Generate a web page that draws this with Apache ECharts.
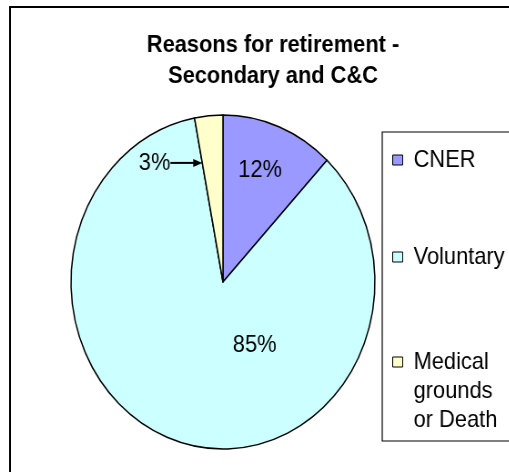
<!DOCTYPE html>
<html>
<head>
<meta charset="utf-8">
<script src="https://cdn.jsdelivr.net/npm/echarts@6/dist/echarts.min.js"></script>
<style>
html,body{margin:0;padding:0;background:#fff;overflow:hidden;width:509px;height:472px;}
#c{width:560px;height:472px;transform:scaleX(0.91);transform-origin:0 0;}
</style>
</head>
<body>
<div id="c"></div>
<script>
var titleLines = ['Reasons for retirement -', 'Secondary and C&C'];
var categories = ['CNER', 'Voluntary', 'Medical grounds or Death'];
var values = [12, 85, 3];
var labels = ['12%', '85%', '3%'];
var colors = ['#9999FF', '#CCFFFF', '#FFFFCC'];

var FONT = '"Liberation Sans", Arial, sans-serif';
var FS = 24;
var chart = echarts.init(document.getElementById('c'), null, {renderer: 'canvas'});

var labelOffsets = [[9, -31], [59, -20], [0, 0]];
var data = categories.map(function (name, i) {
  return {
    name: name,
    value: values[i],
    itemStyle: {color: colors[i]},
    label: i === 2 ? {show: false} : {show: true, position: 'inside', offset: labelOffsets[i]}
  };
});

function legendFor(i, top) {
  return {
    data: [categories[i]],
    orient: 'vertical',
    left: 431,
    top: top,
    icon: 'rect',
    itemWidth: 11,
    itemHeight: 10,
    itemGap: 0,
    padding: 0,
    selectedMode: false,
    itemStyle: {borderColor: '#000', borderWidth: 1},
    formatter: i === 2 ? '\n\nMedical\ngrounds\nor Death' : '{name}',
    textStyle: {fontFamily: FONT, fontSize: FS, color: '#000', lineHeight: 29, padding: [0, 0, 0, 7]}
  };
}

var frame = [
  {type: 'rect', z: -10, shape: {x: 11, y: 7, width: 600, height: 520}, style: {fill: '#fff', stroke: '#000', lineWidth: 2}},
  {type: 'rect', z: -5, shape: {x: 420, y: 132, width: 200, height: 309}, style: {fill: '#fff', stroke: '#000', lineWidth: 1.2}}
];

chart.setOption({
  animation: false,
  backgroundColor: '#fff',
  title: {
    text: titleLines.join('\n'),
    left: 300,
    textAlign: 'center',
    top: 30,
    padding: 0,
    textStyle: {fontFamily: FONT, fontSize: 24, fontWeight: 'bold', color: '#000', lineHeight: 31}
  },
  legend: [legendFor(0, 145.5), legendFor(1, 242.5), legendFor(2, 289.5)],
  graphic: frame,
  series: [{
    type: 'pie',
    center: [245, 282],
    radius: 167,
    startAngle: 90,
    clockwise: true,
    avoidLabelOverlap: false,
    data: data,
    itemStyle: {borderColor: '#000', borderWidth: 1.5},
    label: {
      fontFamily: FONT, fontSize: FS, color: '#000',
      formatter: function (p) { return labels[p.dataIndex]; }
    },
    labelLine: {show: false},
    emphasis: {disabled: true}
  }]
});

// Annotation for the small slice, derived from the library's own pie layout.
var lay = chart.getModel().getSeriesByIndex(0).getData().getItemLayout(2);
var a = lay.startAngle;
var tipR = lay.r * 0.726;
var tipX = lay.cx + tipR * Math.cos(a);
var tipY = lay.cy + tipR * Math.sin(a);
var arrowLen = 35;
chart.setOption({
  graphic: frame.concat([
    {type: 'line', z: 10, shape: {x1: tipX - arrowLen, y1: tipY, x2: tipX - 8, y2: tipY}, style: {stroke: '#000', lineWidth: 2}},
    {type: 'polygon', z: 10, shape: {points: [[tipX, tipY], [tipX - 10, tipY - 4], [tipX - 10, tipY + 4]]}, style: {fill: '#000'}},
    {type: 'text', z: 10, x: tipX - arrowLen, y: tipY, style: {text: labels[2], fontFamily: FONT, fontSize: FS, fill: '#000', align: 'right', verticalAlign: 'middle'}}
  ])
});
</script>
</body>
</html>
